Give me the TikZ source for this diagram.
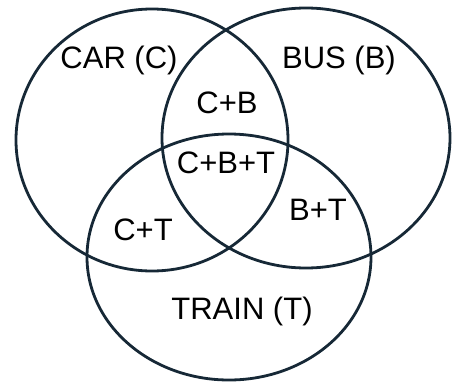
\documentclass[tikz,border=0pt]{standalone}
\usepackage{fontspec}
\setmainfont{Liberation Sans}
\definecolor{ring}{RGB}{22,40,54}
\begin{document}
\begin{tikzpicture}[x=1pt,y=-1pt,
  ring/.style={draw=ring,line width=2.8pt},
  lbl/.style={font=\fontsize{31}{37}\selectfont,text=black,inner sep=0pt}]
\useasboundingbox (0,0) rectangle (453,383);
\draw[ring] (152,140) ellipse [x radius=136,y radius=131];
\draw[ring] (306,138) ellipse [x radius=144,y radius=130];
\draw[ring] (229,257) ellipse [x radius=142,y radius=123];
\node[lbl] (car) at (119,60) {CAR (C)};
\node[lbl] (bus) at (339,60) {BUS (B)};
\node[lbl] (cb) at (227,103) {C+B};
\node[lbl] (cbt) at (226,163) {C+B+T};
\node[lbl] (ct) at (143,230) {C+T};
\node[lbl] (bt) at (318,210) {B+T};
\node[lbl] (train) at (242,311) {TRAIN (T)};
\end{tikzpicture}
\end{document}
